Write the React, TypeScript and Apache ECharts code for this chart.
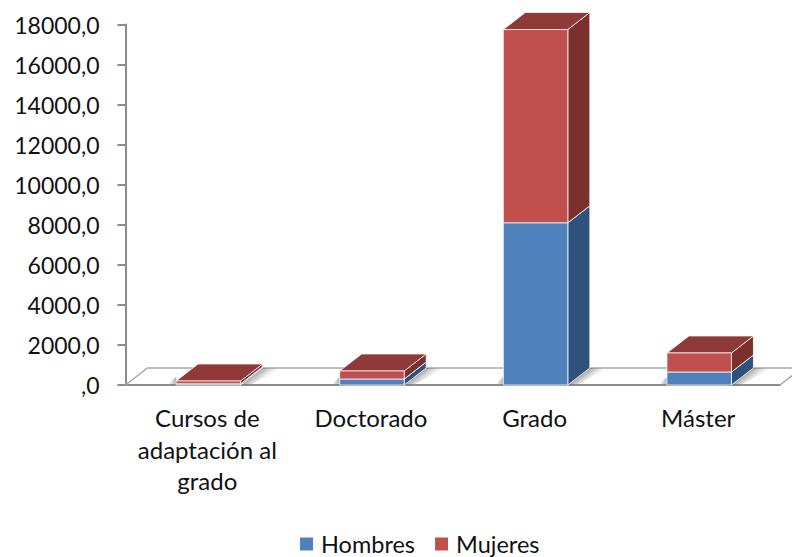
import React, { useEffect, useRef } from "react";
import * as echarts from "echarts";

const categories = ["Cursos de\nadaptación al\ngrado", "Doctorado", "Grado", "Máster"];
const seriesNames = ["Hombres", "Mujeres"];
const hombres = [60, 300, 8100, 650];
const mujeres = [140, 400, 9650, 950];
const yMin = 0;
const yMax = 18000;
const yStep = 2000;

const BLUE = { front: "#4F81BD", side: "#2F527C", top: "#3C6798" };
const RED = { front: "#C0504D", side: "#7B302E", top: "#8F3A38" };
const DX = 22;
const DY = 17;
const BAR_W = 64.5;
const BAR_SHIFT = 1;
const EDGE = "rgba(255,255,255,0.75)";

function segment(colors: typeof BLUE) {
  return (params: any, api: any) => {
    const cat = api.value(0);
    const a = api.coord([cat, api.value(1)]);
    const b = api.coord([cat, api.value(2)]);
    const l = a[0] - BAR_W / 2 + BAR_SHIFT;
    const r = l + BAR_W;
    const y0 = a[1];
    const y1 = b[1];
    const poly = (pts: number[][], fill: string) => ({
      type: "polygon",
      shape: { points: pts },
      style: { fill, stroke: EDGE, lineWidth: 1 },
    });
    return {
      type: "group",
      children: [
        poly([[r, y0], [r + DX, y0 - DY], [r + DX, y1 - DY], [r, y1]], colors.side),
        poly([[l, y1], [r, y1], [r + DX, y1 - DY], [l + DX, y1 - DY]], colors.top),
        poly([[l, y0], [r, y0], [r, y1], [l, y1]], colors.front),
      ],
    };
  };
}

function renderShadow(params: any, api: any) {
  const a = api.coord([api.value(0), 0]);
  const l = a[0] - BAR_W / 2 + BAR_SHIFT;
  const r = l + BAR_W;
  const y = a[1];
  const W = 20;
  return {
    type: "group",
    children: [
      {
        type: "polygon",
        shape: { points: [[r, y], [r + DX, y - DY], [r + DX + W, y - DY], [r + 9, y]] },
        style: {
          fill: new echarts.graphic.LinearGradient(
            r + DX / 2,
            y - DY / 2,
            r + DX / 2 + 7,
            y - DY / 2 + 9,
            [
              { offset: 0, color: "rgba(100,100,100,0.6)" },
              { offset: 0.5, color: "rgba(140,140,140,0.3)" },
              { offset: 1, color: "rgba(190,190,190,0)" },
            ],
            true
          ),
        },
      },
      {
        type: "polygon",
        shape: { points: [[l, y], [l - 9, y], [l, y - 8]] },
        style: {
          fill: new echarts.graphic.LinearGradient(1, 0, 0, 0, [
            { offset: 0, color: "rgba(100,100,100,0.55)" },
            { offset: 1, color: "rgba(190,190,190,0)" },
          ]),
        },
      },
    ],
  };
}

function renderFloor(params: any) {
  const cs = params.coordSys;
  const x0 = cs.x;
  const x1 = cs.x + cs.width;
  const y = cs.y + cs.height;
  return {
    type: "polyline",
    shape: { points: [[x0, y], [x0 + DX, y - DY], [x1 + DX, y - DY]] },
    style: { fill: "none", stroke: "#A8A8A8", lineWidth: 1.5 },
    silent: true,
  };
}

function renderFloorEnd(params: any) {
  const cs = params.coordSys;
  const x1 = cs.x + cs.width;
  const y = cs.y + cs.height;
  return {
    type: "line",
    shape: { x1, y1: y, x2: x1 + DX, y2: y - DY },
    style: { stroke: "#A8A8A8", lineWidth: 1.5 },
    silent: true,
  };
}

const fontFamily = "Lato, Carlito, sans-serif";

export default function App() {
  const ref = useRef<HTMLDivElement>(null);
  useEffect(() => {
    const chart = echarts.init(ref.current!, undefined, { renderer: "svg" });
    const idx = categories.map((_, i) => i);
    chart.setOption({
      animation: false,
      backgroundColor: "#fff",
      grid: { left: 125.5, right: 12, top: 24.5, bottom: 172 },
      legend: {
        data: seriesNames,
        top: 527,
        left: 295,
        itemWidth: 13,
        itemHeight: 13,
        itemGap: 20,
        icon: "rect",
        textStyle: { fontFamily, fontSize: 23.5, color: "#111", padding: [0, 0, 0, 3] },
      },
      xAxis: {
        type: "category",
        data: categories,
        axisLine: { lineStyle: { color: "#8C8C8C", width: 2 } },
        axisTick: { length: 8, lineStyle: { color: "#8C8C8C", width: 2 } },
        axisLabel: {
          fontFamily,
          fontSize: 24,
          color: "#111",
          lineHeight: 31.5,
          margin: 17,
          interval: 0,
        },
      },
      yAxis: {
        type: "value",
        min: yMin,
        max: yMax,
        interval: yStep,
        splitLine: { show: false },
        axisLine: { show: true, lineStyle: { color: "#8C8C8C", width: 2 } },
        axisTick: { show: true, length: 8, lineStyle: { color: "#8C8C8C", width: 2 } },
        axisLabel: {
          fontFamily,
          fontSize: 23,
          color: "#111",
          margin: 26,
          formatter: (v: number) => (v === 0 ? ",0" : `${v},0`),
        },
      },
      series: [
        {
          type: "custom",
          name: "floor",
          z: 1,
          clip: false,
          renderItem: renderFloor,
          data: [[0]],
          encode: { x: 0 },
          silent: true,
        },
        {
          type: "custom",
          name: "floorEnd",
          z: 1,
          clip: false,
          renderItem: renderFloorEnd,
          data: [[0]],
          encode: { x: 0 },
          silent: true,
        },
        {
          type: "custom",
          name: "shadow",
          z: 2,
          clip: false,
          renderItem: renderShadow,
          data: idx.map((i) => [i]),
          encode: { x: 0 },
          silent: true,
        },
        {
          type: "custom",
          name: seriesNames[0],
          z: 3,
          clip: false,
          itemStyle: { color: BLUE.front },
          renderItem: segment(BLUE),
          data: idx.map((i) => [i, 0, hombres[i]]),
          encode: { x: 0, y: 2 },
        },
        {
          type: "custom",
          name: seriesNames[1],
          z: 4,
          clip: false,
          itemStyle: { color: RED.front },
          renderItem: segment(RED),
          data: idx.map((i) => [i, hombres[i], hombres[i] + mujeres[i]]),
          encode: { x: 0, y: 2 },
        },
      ],
    });
    return () => chart.dispose();
  }, []);
  return (
    <div
      ref={ref}
      style={{ position: "fixed", left: 0, top: 0, width: 792, height: 557 }}
    />
  );
}
